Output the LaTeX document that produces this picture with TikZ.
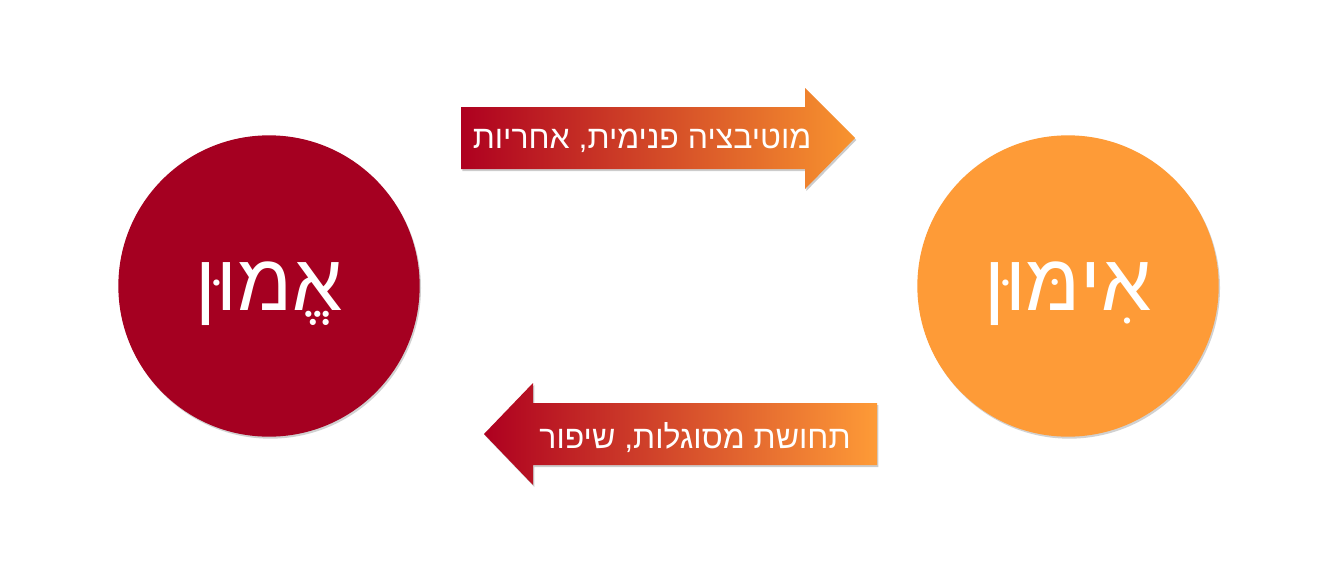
\documentclass[tikz,border=0pt]{standalone}
\usepackage{fontspec}
\setmainfont{Liberation Sans}
\newfontfamily\hebfont[Script=Hebrew]{Liberation Sans}
\TeXXeTstate=1
\usetikzlibrary{shadows}

\definecolor{trustred}{HTML}{A50021}
\definecolor{trainorange}{HTML}{FE9B37}
\definecolor{arrowred}{HTML}{AE0020}
\definecolor{arroworange}{HTML}{F8942F}

\begin{document}
\begin{tikzpicture}[x=0.75pt, y=-0.75pt,
    bubble/.style={circle, minimum size=226pt, inner sep=0pt, text=white,
        font=\hebfont\fontsize{60}{66}\selectfont,
        drop shadow={shadow xshift=1pt, shadow yshift=-1.5pt, fill=black, opacity=0.18}},
    flow/.style={drop shadow={shadow xshift=1pt, shadow yshift=-1.5pt, fill=black, opacity=0.2}},
    flowtext/.style={text=white, inner sep=0pt, font=\hebfont\fontsize{24}{28}\selectfont}
]
\useasboundingbox[fill=white] (0,0) rectangle (1330,571);

% the two circles
\node[bubble, fill=trustred] (emun) at (269,286) {\raisebox{-18pt}[0pt][0pt]{\beginR אֱמוּן\endR}};
\node[bubble, fill=trainorange] (imun) at (1068,286) {\raisebox{-18pt}[0pt][0pt]{\beginR אִימּוּן\endR}};

% top arrow: trust -> training
\shade[flow, left color=arrowred, right color=arroworange]
    (461,107) -- (805,107) -- (805,88) -- (855,138) -- (805,189) -- (805,169) -- (461,169) -- cycle;
\node[flowtext] (motiv) at (642,141) {\beginR מוטיבציה פנימית, אחריות\endR};

% bottom arrow: training -> trust
\shade[flow, left color=arrowred, right color=trainorange]
    (877,403) -- (533,403) -- (533,383) -- (484,434) -- (533,485) -- (533,465) -- (877,465) -- cycle;
\node[flowtext] (mesug) at (695,438) {\beginR תחושת מסוגלות, שיפור\endR};

\end{tikzpicture}
\end{document}
